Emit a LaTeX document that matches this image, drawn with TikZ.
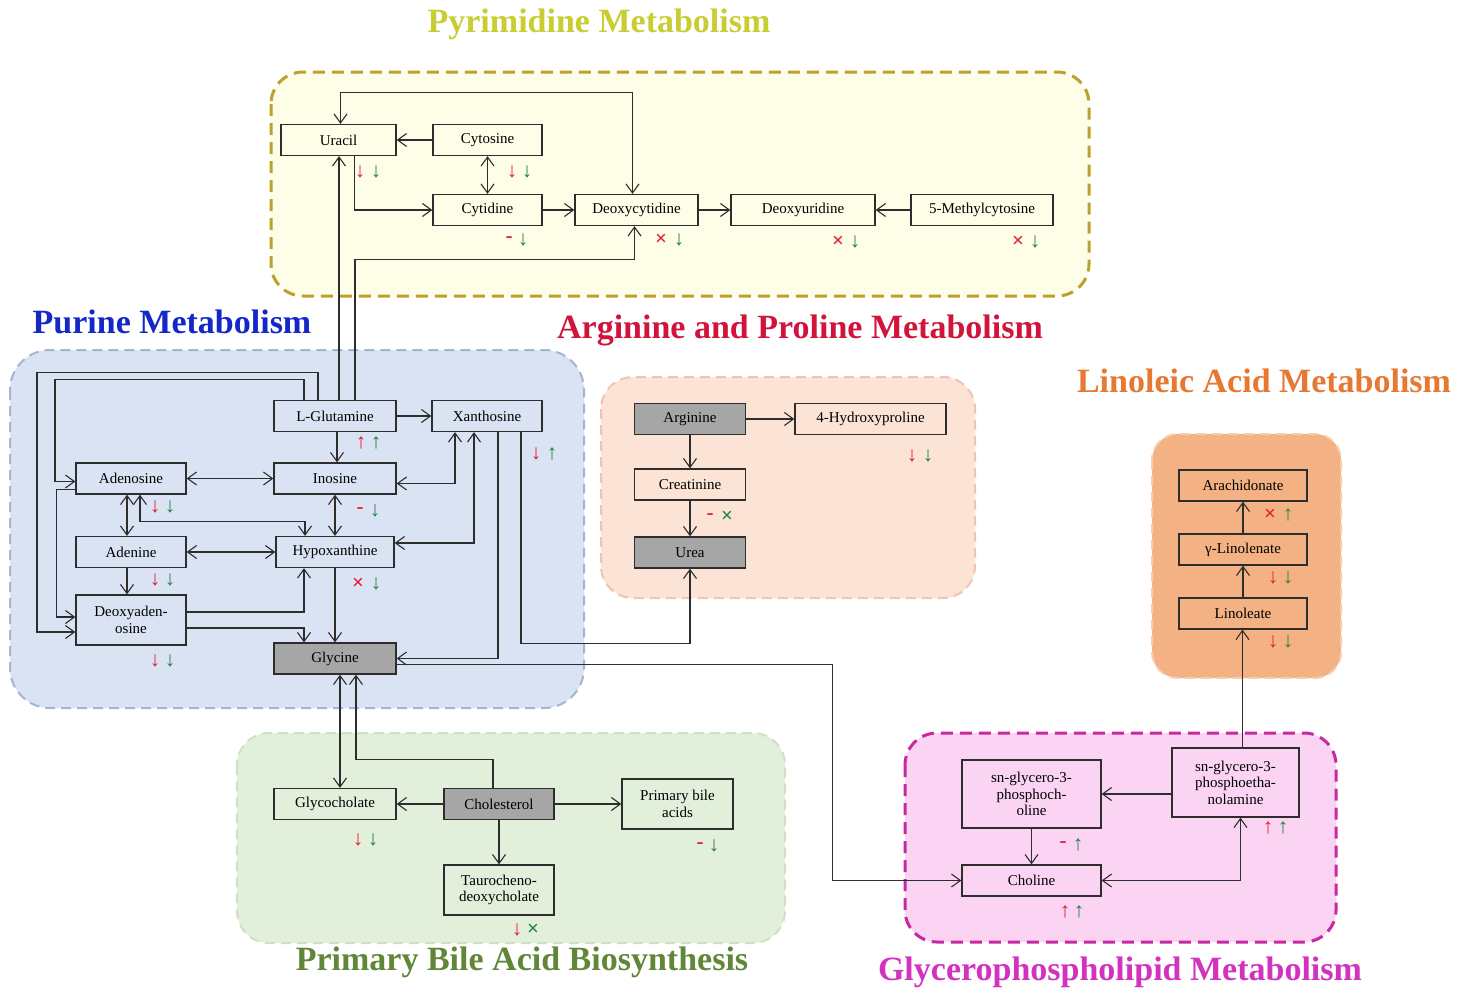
\documentclass[tikz,border=0pt]{standalone}
\usepackage{fontspec}
\setmainfont{Liberation Serif}
\usetikzlibrary{arrows.meta}

\definecolor{pyrfill}{RGB}{254,253,232}
\definecolor{pyrline}{RGB}{190,160,45}
\definecolor{purfill}{RGB}{218,227,243}
\definecolor{purline}{RGB}{165,180,210}
\definecolor{argfill}{RGB}{251,228,213}
\definecolor{argline}{RGB}{242,195,175}
\definecolor{linfill}{RGB}{244,177,131}
\definecolor{linline}{RGB}{250,205,170}
\definecolor{bilefill}{RGB}{226,239,218}
\definecolor{bileline}{RGB}{208,224,198}
\definecolor{glyfill}{RGB}{250,212,242}
\definecolor{glyline}{RGB}{200,40,160}
\definecolor{keybox}{RGB}{166,166,166}
\definecolor{edge}{RGB}{45,45,45}
\definecolor{upred}{RGB}{228,30,50}
\definecolor{upgreen}{RGB}{40,128,70}
\definecolor{pyrtitle}{RGB}{200,205,50}
\definecolor{purtitle}{RGB}{20,40,200}
\definecolor{argtitle}{RGB}{210,20,60}
\definecolor{lintitle}{RGB}{230,120,50}
\definecolor{biletitle}{RGB}{95,135,55}
\definecolor{glytitle}{RGB}{210,50,190}

\newcommand\mdown{↓}
\newcommand\mup{↑}
\newcommand\mno{×}
\newcommand\mnil{-}

\tikzset{
  met/.style={draw=edge, line width=1.3pt, minimum height=31, inner sep=2,
    font=\fontsize{15}{16.5}\selectfont, align=center},
  key/.style={met, fill=keybox},
  arr/.style={draw=edge, line width=1.1pt, -{Straight Barb[length=9pt,width=13pt]}},
  arr2/.style={arr, {Straight Barb[length=9pt,width=13pt]}-{Straight Barb[length=9pt,width=13pt]}},
  grp/.style={rounded corners=32, line width=2pt, dash pattern=on 10pt off 6pt},
  ttl/.style={font=\fontsize{34}{36}\selectfont\bfseries},
  mk/.style={inner sep=0, font=\fontsize{21}{21}\selectfont\bfseries},
}

\begin{document}
\begin{tikzpicture}[x=1pt,y=-1pt]
  \useasboundingbox (0,0) rectangle (1469,991);

  % pathway areas
  \draw[grp, fill=pyrfill, draw=pyrline, line width=3pt, dash pattern=on 12pt off 7pt]
    (271,72) rectangle (1089,296);
  \draw[grp, fill=purfill, draw=purline, rounded corners=40] (10,350) rectangle (584,708);
  \draw[grp, fill=argfill, draw=argline] (601,377) rectangle (975,598);
  \draw[grp, fill=linfill, draw=linline, rounded corners=26] (1152,434) rectangle (1341,678);
  \draw[grp, fill=bilefill, draw=bileline] (237,733) rectangle (785,943);
  \draw[grp, fill=glyfill, draw=glyline, line width=3pt, dash pattern=on 12pt off 7pt]
    (905,733) rectangle (1336,942);

  % titles
  \node[ttl, text=pyrtitle] (t-pyr) at (599,24) {Pyrimidine Metabolism};
  \node[ttl, text=purtitle] (t-pur) at (172,322) {Purine Metabolism};
  \node[ttl, text=argtitle] (t-arg) at (800,330) {Arginine and Proline Metabolism};
  \node[ttl, text=lintitle] (t-lin) at (1264,381) {Linoleic Acid Metabolism};
  \node[ttl, text=biletitle] (t-bile) at (522,962) {Primary Bile Acid Biosynthesis};
  \node[ttl, text=glytitle] (t-gly) at (1120,972) {Glycerophospholipid Metabolism};

  % pyrimidine
  \node[met, minimum width=115] (uracil) at (338.5,140) {Uracil};
  \node[met, minimum width=109] (cytosine) at (487.5,140) {Cytosine};
  \node[met, minimum width=109] (cytidine) at (487.5,210) {Cytidine};
  \node[met, minimum width=123] (deoxycytidine) at (636.5,210) {Deoxycytidine};
  \node[met, minimum width=144] (deoxyuridine) at (803,210) {Deoxyuridine};
  \node[met, minimum width=142] (methylcytosine) at (982,210) {5-Methylcytosine};

  % purine
  \node[met, minimum width=122] (glutamine) at (335,416) {L-Glutamine};
  \node[met, minimum width=110] (xanthosine) at (487,416) {Xanthosine};
  \node[met, minimum width=110] (adenosine) at (131,478.5) {Adenosine};
  \node[met, minimum width=122] (inosine) at (335,478.5) {Inosine};
  \node[met, minimum width=110] (adenine) at (131,552) {Adenine};
  \node[met, minimum width=118] (hypoxanthine) at (335,552) {Hypoxanthine};
  \node[met, minimum width=110, minimum height=50] (deoxyadenosine) at (131,620) {Deoxyaden-\\osine};
  \node[key, minimum width=122] (glycine) at (335,658.5) {Glycine};

  % arginine and proline
  \node[key, minimum width=111] (arginine) at (690,419) {Arginine};
  \node[met, minimum width=151] (hydroxyproline) at (870.5,419) {4-Hydroxyproline};
  \node[met, minimum width=111] (creatinine) at (690,484.5) {Creatinine};
  \node[key, minimum width=111] (urea) at (690,552.5) {Urea};

  % linoleic acid
  \node[met, minimum width=128] (arachidonate) at (1243,485.5) {Arachidonate};
  \node[met, minimum width=128] (linolenate) at (1243,549.5) {γ-Linolenate};
  \node[met, minimum width=128] (linoleate) at (1243,613.5) {Linoleate};

  % primary bile acid
  \node[met, minimum width=122] (glycocholate) at (335,804) {Glycocholate};
  \node[key, minimum width=110] (cholesterol) at (499,804) {Cholesterol};
  \node[met, minimum width=111, minimum height=50] (bileacids) at (677.5,804) {Primary bile\\acids};
  \node[met, minimum width=110, minimum height=50] (tauro) at (499,890) {Taurocheno-\\deoxycholate};

  % glycerophospholipid
  \node[met, minimum width=139, minimum height=68] (pc) at (1031.5,794) {sn-glycero-3-\\phosphoch-\\oline};
  \node[met, minimum width=127, minimum height=69] (pe) at (1235.5,782.5) {sn-glycero-3-\\phosphoetha-\\nolamine};
  \node[met, minimum width=139] (choline) at (1031.5,880.5) {Choline};

  % pyrimidine links
  \draw[arr] (cytosine) -- (uracil);
  \draw[arr2] (cytosine) -- (cytidine);
  \draw[arr] ([xshift=16]uracil.south) |- (cytidine);
  \draw[arr] (cytidine) -- (deoxycytidine);
  \draw[arr] (deoxycytidine) -- (deoxyuridine);
  \draw[arr] (methylcytosine) -- (deoxyuridine);
  \draw[arr2] ([xshift=2]uracil.north) -- ++(0,-31) -| ([xshift=-4]deoxycytidine.north);
  \draw[arr] ([xshift=4]glutamine.north) -- ([xshift=4]glutamine.north |- uracil.south);
  \draw[arr] ([xshift=20]glutamine.north) -- ++(0,-140) -| ([xshift=-2]deoxycytidine.south);

  % purine links
  \draw[arr] (glutamine) -- (xanthosine);
  \draw[arr] ([xshift=2]glutamine.south) -- ([xshift=2]inosine.north);
  \draw[arr2] (adenosine) -- (inosine);
  \draw[arr2] ([yshift=-5]inosine.east) -| ([xshift=-32]xanthosine.south);
  \draw[arr2] ([xshift=-13]xanthosine.south) |- ([yshift=9]hypoxanthine.east);
  \draw[arr2] (inosine) -- (hypoxanthine);
  \draw[arr2] ([xshift=-4]adenosine.south) -- ([xshift=-4]adenine.north);
  \draw[arr2] ([xshift=9]adenosine.south) -- ++(0,27) -| ([xshift=-30]hypoxanthine.north);
  \draw[arr2] (adenine) -- (hypoxanthine);
  \draw[arr] ([xshift=-4]adenine.south) -- ([xshift=-4]deoxyadenosine.north);
  \draw[arr] ([yshift=8]deoxyadenosine.east) -| ([xshift=-31]hypoxanthine.south);
  \draw[arr] ([yshift=-8]deoxyadenosine.east) -| ([xshift=-31]glycine.north);
  \draw[arr] (hypoxanthine) -- (glycine);
  \draw[arr] ([xshift=11]xanthosine.south) |- (glycine);
  \draw[arr] ([xshift=34]xanthosine.south) -- ++(0,211) -| (urea);
  \draw[arr] ([xshift=-17]glutamine.north) |- ++(-281,-27) |- ([yshift=-12]deoxyadenosine.west);
  \draw[arr] ([xshift=-31]glutamine.north) |- ++(-249,-20) |- ([yshift=-3]adenosine.west);
  \draw[arr] ([yshift=-11]adenosine.west) -- ++(-19,0) |- ([yshift=3]deoxyadenosine.west);
  \draw[arr] ([yshift=-6]glycine.east) -- ++(436,0) |- (choline);

  % arginine links
  \draw[arr] (arginine) -- (hydroxyproline);
  \draw[arr] (arginine) -- (creatinine);
  \draw[arr] (creatinine) -- (urea);

  % bile acid links
  \draw[arr2] ([xshift=5]glycine.south) -- ([xshift=5]glycocholate.north);
  \draw[arr] ([xshift=-6]cholesterol.north) -- ++(0,-28) -| ([xshift=21]glycine.south);
  \draw[arr] (cholesterol) -- (glycocholate);
  \draw[arr] (cholesterol) -- (bileacids);
  \draw[arr] (cholesterol) -- (tauro);

  % glycerophospholipid and linoleic links
  \draw[arr] (pe.west |- pc.east) -- (pc.east);
  \draw[arr] (pc) -- (choline);
  \draw[arr2] (choline) -| ([xshift=5]pe.south);
  \draw[arr] ([xshift=7]pe.north) -- ([xshift=7]pe.north |- linoleate.south);
  \draw[arr] (linoleate) -- (linolenate);
  \draw[arr] (linolenate) -- (arachidonate);

  % change marks
  \foreach \nm/\xa/\xb/\py/\ra/\gb in {
    uracil/360/376/172/\mdown/\mdown, cytosine/512/527/172/\mdown/\mdown,
    cytidine/509/523/240/\mnil/\mdown, deoxycytidine/661/679/240/\mno/\mdown,
    deoxyuridine/838/855/242/\mno/\mdown, methylcytosine/1018/1035/242/\mno/\mdown,
    glutamine/361/376/443/\mup/\mup, xanthosine/536/552/454/\mdown/\mup,
    adenosine/155/170/507/\mdown/\mdown, inosine/360/375/511/\mnil/\mdown,
    adenine/155/170/580/\mdown/\mdown, hypoxanthine/358/376/584/\mno/\mdown,
    deoxyadenosine/155/170/661/\mdown/\mdown,
    hydroxyproline/912/928/456/\mdown/\mdown, creatinine/710/727/517/\mnil/\mno,
    arachidonate/1270/1288/515/\mno/\mup, linolenate/1273/1288/578/\mdown/\mdown,
    linoleate/1273/1288/642/\mdown/\mdown,
    glycocholate/358/373/840/\mdown/\mdown, bileacids/700/714/846/\mnil/\mdown,
    tauro/517/533/930/\mdown/\mno,
    pc/1063/1078/845/\mnil/\mup, pe/1268/1283/828/\mup/\mup, choline/1065/1079/912/\mup/\mup} {
    \node[mk, text=upred] (\nm-a) at (\xa,\py) {\ra};
    \node[mk, text=upgreen] (\nm-b) at (\xb,\py) {\gb};
  }
\end{tikzpicture}
\end{document}
